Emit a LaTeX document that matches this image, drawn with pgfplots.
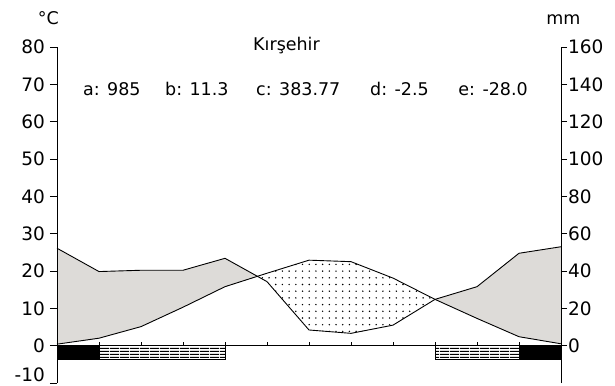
\documentclass[border=0pt]{standalone}
\usepackage{fontspec}
\setmainfont{DejaVu Sans}
\usepackage{pgfplots}
\usepackage{pgfplotstable}
\pgfplotsset{compat=1.18}
\usepgfplotslibrary{fillbetween}
\usetikzlibrary{patterns.meta}
\definecolor{fillgray}{RGB}{221,219,216}
\pgfdeclarepattern{
  name=wdots, type=uncolored,
  bottom left={\pgfpoint{-1bp}{-1bp}},
  top right={\pgfpoint{5.7bp}{5.7bp}},
  tile size={\pgfpoint{6.7bp}{6.7bp}},
  code={\pgfpathcircle{\pgfpoint{1bp}{1bp}}{0.8bp}\pgfusepath{fill}}
}
\pgfdeclarepattern{
  name=hlines, type=uncolored,
  bottom left={\pgfpoint{0bp}{0bp}},
  top right={\pgfpoint{10bp}{3.2bp}},
  tile size={\pgfpoint{10bp}{3.2bp}},
  code={\pgfpathrectangle{\pgfpoint{0bp}{0bp}}{\pgfpoint{10bp}{1.2bp}}\pgfusepath{fill}}
}
\pgfplotstableread{
x T P
0 0.4 52.2
1 2.0 39.7
2 5.1 40.4
3 10.3 40.4
4 15.8 46.8
5 19.4 34.3
6 22.9 8.4
7 22.5 6.6
8 18.1 11.0
9 12.4 24.8
10 7.3 31.6
11 2.4 49.5
12 0.5 53.0
}\climate
\newcommand{\lblfont}{\fontsize{17.5bp}{20bp}\selectfont}
\newcommand{\tickfont}{\fontsize{18.5bp}{20bp}\selectfont}
\begin{document}
\begin{tikzpicture}
% main axis with data
\begin{axis}[
  scale only axis, width=504bp, height=336bp,
  at={(0,0)}, anchor=south west,
  xmin=0, xmax=12, ymin=-10, ymax=80,
  axis y line=none, axis x line*=middle,
  xtick={1,...,11}, xticklabels={},
  tick align=inside, major tick length=3.5bp,
  axis line style={black, line width=0.9bp},
  tick style={black, line width=0.9bp},
  clip=false]
\addplot[name path=T, draw=none] table[x=x, y=T]{\climate};
\addplot[name path=P, draw=none] table[x=x, y expr=\thisrow{P}/2]{\climate};
\addplot[fill=fillgray, draw=none] fill between[of=P and T, split,
   every segment no 1/.style={pattern=wdots, pattern color=black}];
\addplot[black, line width=0.9bp] table[x=x, y=T]{\climate};
\addplot[black, line width=0.9bp] table[x=x, y expr=\thisrow{P}/2]{\climate};
\addplot[fill=black, draw=black, line width=0.9bp] coordinates {(0,0) (1,0) (1,-3.7) (0,-3.7)} -- cycle;
\addplot[fill=black, draw=black, line width=0.9bp] coordinates {(11,0) (12,0) (12,-3.7) (11,-3.7)} -- cycle;
\addplot[pattern=hlines, pattern color=black, draw=black, line width=0.9bp] coordinates {(1,0) (4,0) (4,-3.7) (1,-3.7)} -- cycle;
\addplot[pattern=hlines, pattern color=black, draw=black, line width=0.9bp] coordinates {(9,0) (11,0) (11,-3.7) (9,-3.7)} -- cycle;
\end{axis}
% left axis
\begin{axis}[
  scale only axis, width=504bp, height=336bp,
  at={(0,0)}, anchor=south west,
  xmin=0, xmax=12, ymin=-10, ymax=80,
  axis x line=none, axis y line*=left,
  ytick={0,10,...,80},
  extra y ticks={-10},
  extra y tick style={yticklabel style={yshift=8.5bp, inner sep=0pt, xshift=-1bp}},
  tick align=outside, major tick length=7bp,
  axis line style={black, line width=0.9bp},
  tick style={black, line width=0.9bp},
  /pgf/number format/assume math mode=true,
  yticklabel style={font=\tickfont, inner sep=1bp, xshift=-4bp},
  ]
\addplot[draw=none] table[x=x, y=T]{\climate};
\end{axis}
% right axis
\begin{axis}[
  scale only axis, width=504bp, height=336bp,
  at={(0,0)}, anchor=south west,
  xmin=0, xmax=12, ymin=-20, ymax=160,
  axis x line=none, axis y line*=right,
  ytick={0,20,...,160},
  tick align=outside, major tick length=6bp,
  axis line style={black, line width=0.9bp},
  tick style={black, line width=0.9bp},
  /pgf/number format/assume math mode=true,
  yticklabel style={font=\tickfont, inner sep=1bp},
  ]
\addplot[draw=none] table[x=x, y=P]{\climate};
\end{axis}
\node[anchor=base, font=\lblfont] at (-8.7bp,358bp) {°C};
\node[anchor=base, font=\lblfont] at (506.3bp,358bp) {mm};
\node[anchor=base, font=\lblfont] at (229.5bp,332.3bp) {Kırşehir};
\node[anchor=base west, font=\lblfont, inner sep=0pt] at (26bp,287bp) {a: 985};
\node[anchor=base west, font=\lblfont, inner sep=0pt] at (108bp,287bp) {b: 11.3};
\node[anchor=base west, font=\lblfont, inner sep=0pt] at (199bp,287bp) {c: 383.77};
\node[anchor=base west, font=\lblfont, inner sep=0pt] at (313bp,287bp) {d: -2.5};
\node[anchor=base east, font=\lblfont, inner sep=0pt] at (471bp,287bp) {e: -28.0};
\pgfresetboundingbox
\path[use as bounding box] (-57bp,-3bp) rectangle (558bp,383bp);
\end{tikzpicture}
\end{document}
